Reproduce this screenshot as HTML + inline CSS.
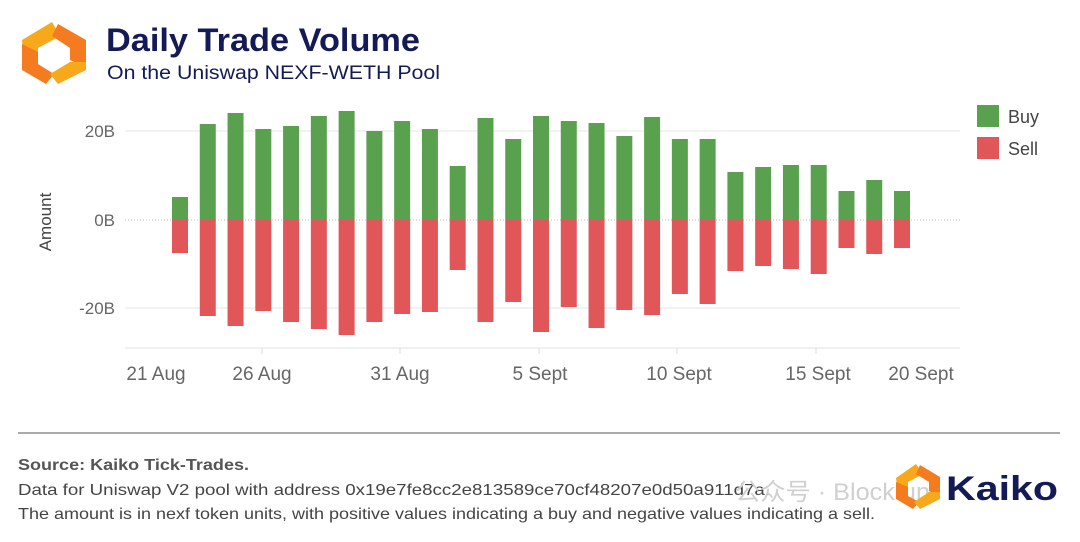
<!DOCTYPE html>
<html><head><meta charset="utf-8"><style>
body{margin:0;background:#fff;width:1080px;height:537px;overflow:hidden;font-family:"Liberation Sans",Arial,sans-serif;}
</style></head><body>
<svg width="1080" height="537" xmlns="http://www.w3.org/2000/svg" font-family="Liberation Sans, Arial, sans-serif">
<g>
<polygon points="22,40 52,22 60,36 38,48 38,58 24,62" fill="#f7a81b"/>
<polygon points="22,44 38,52 38,64 54,74 46,84 22,70" fill="#f47b20"/>
<polygon points="58,24 86,40 86,68 70,60 70,48 52,36" fill="#f47b20"/>
<polygon points="86,62 86,70 58,84 50,74 70,62" fill="#f7a81b"/>
</g>
<text x="106" y="51" font-size="32" font-weight="bold" fill="#141a55" textLength="314" lengthAdjust="spacingAndGlyphs">Daily Trade Volume</text>
<text x="107" y="79" font-size="19" fill="#141a55" textLength="333" lengthAdjust="spacingAndGlyphs">On the Uniswap NEXF-WETH Pool</text>
<line x1="125" y1="131" x2="960" y2="131" stroke="#e6e6e6"/>
<line x1="125" y1="308" x2="960" y2="308" stroke="#e6e6e6"/>
<line x1="125" y1="220" x2="960" y2="220" stroke="#bbb" stroke-dasharray="1,2"/>
<line x1="125" y1="348" x2="960" y2="348" stroke="#e3e3e3"/>
<g stroke="#ddd"><line x1="262" y1="348" x2="262" y2="354"/><line x1="400" y1="348" x2="400" y2="354"/><line x1="539" y1="348" x2="539" y2="354"/><line x1="677" y1="348" x2="677" y2="354"/><line x1="816" y1="348" x2="816" y2="354"/></g>
<g font-size="17" fill="#666" text-anchor="end">
<text x="115" y="137">20B</text><text x="115" y="226">0B</text><text x="115" y="314">-20B</text>
</g>
<text transform="translate(51,222) rotate(-90)" font-size="17" fill="#444" text-anchor="middle">Amount</text>
<g font-size="19" fill="#666" text-anchor="middle">
<text x="156" y="380">21 Aug</text><text x="262" y="380">26 Aug</text><text x="400" y="380">31 Aug</text><text x="540" y="380">5 Sept</text><text x="679" y="380">10 Sept</text><text x="818" y="380">15 Sept</text><text x="921" y="380">20 Sept</text>
</g>
<g id="bars"></g>
<rect x="977" y="105" width="22" height="22" fill="#59a14f"/>
<text x="1008" y="123" font-size="18" fill="#444">Buy</text>
<rect x="977" y="137" width="22" height="22" fill="#e15759"/>
<text x="1008" y="155" font-size="18" fill="#444">Sell</text>
<line x1="18" y1="433" x2="1060" y2="433" stroke="#777" stroke-width="1.2"/>
<text x="18" y="470" font-size="16" font-weight="bold" fill="#555" textLength="231" lengthAdjust="spacingAndGlyphs">Source: Kaiko Tick-Trades.</text>
<text x="18" y="495" font-size="16" fill="#444" textLength="752" lengthAdjust="spacingAndGlyphs">Data for Uniswap V2 pool with address 0x19e7fe8cc2e813589ce70cf48207e0d50a911d7a.</text>
<text x="18" y="519" font-size="16" fill="#444" textLength="857" lengthAdjust="spacingAndGlyphs">The amount is in nexf token units, with positive values indicating a buy and negative values indicating a sell.</text>
<text x="735" y="500" font-size="24" fill="#d0d0d0" font-family="Liberation Sans, Noto Sans CJK SC, sans-serif" textLength="195" lengthAdjust="spacingAndGlyphs">公众号 · Block un</text>
<g>
<polygon points="896,478 916,464 923,474 908,482 908,490 898,493" fill="#f7a81b"/>
<polygon points="896,482 908,487 908,496 919,502 913,509 896,499" fill="#f47b20"/>
<polygon points="920,465 940,477 940,497 929,491 929,482 916,474" fill="#f47b20"/>
<polygon points="940,492 940,499 920,509 914,502 929,492" fill="#f7a81b"/>
</g>
<text x="946" y="500" font-size="34" font-weight="bold" fill="#141a55" textLength="112" lengthAdjust="spacingAndGlyphs">Kaiko</text>
</svg>
<script>
var d=[[197,253],[124,316],[113,326],[129,311],[126,322],[116,329],[111,335],[131,322],[121,314],[129,312],[166,270],[118,322],[139,302],[116,332],[121,307],[123,328],[136,310],[117,315],[139,294],[139,304],[172,271],[167,266],[165,269],[165,274],[191,248],[180,254],[191,248]];
var g=document.getElementById('bars'),s='';
d.forEach(function(v,i){var x=180+i*27.77-8;
s+='<rect x="'+x+'" y="'+v[0]+'" width="16" height="'+(220-v[0])+'" fill="#59a14f"/>';
s+='<rect x="'+x+'" y="220" width="16" height="'+(v[1]-220)+'" fill="#e15759"/>';});
g.innerHTML=s;
</script>
</body></html>
